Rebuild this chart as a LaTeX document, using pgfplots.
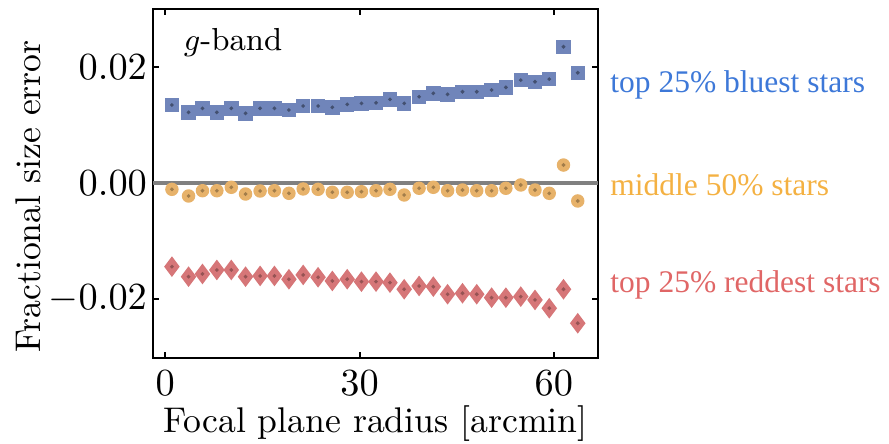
\documentclass[border=0pt]{standalone}
\usepackage{pgfplots}
\usepackage{pgfplotstable}
\pgfplotsset{compat=1.18}
\usepackage{fontspec}
\newfontfamily\sidefont{Liberation Serif}

\definecolor{bluemk}{RGB}{112,133,186}
\definecolor{orangemk}{RGB}{231,178,106}
\definecolor{redmk}{RGB}{214,118,120}
\definecolor{bluetxt}{RGB}{61,120,216}
\definecolor{orangetxt}{RGB}{244,177,66}
\definecolor{redtxt}{RGB}{224,102,102}

% radius, then size error of the bluest, middle and reddest stars
\pgfplotstableread{
r      blue     mid       red
1.03   0.01345  -0.00109  -0.01443
3.60   0.01219  -0.00224  -0.01616
5.75   0.01288  -0.00133  -0.01569
7.97   0.01219  -0.00133  -0.01500
10.20  0.01288  -0.00074  -0.01500
12.40  0.01202  -0.00190  -0.01616
14.65  0.01288  -0.00138  -0.01603
16.86  0.01288  -0.00133  -0.01603
19.10  0.01259  -0.00178  -0.01660
21.30  0.01328  -0.00103  -0.01586
23.60  0.01328  -0.00109  -0.01626
25.80  0.01305  -0.00160  -0.01690
28.10  0.01357  -0.00160  -0.01660
30.30  0.01374  -0.00150  -0.01702
32.55  0.01384  -0.00133  -0.01702
34.70  0.01443  -0.00109  -0.01719
36.90  0.01374  -0.00207  -0.01833
39.20  0.01488  -0.00091  -0.01776
41.40  0.01547  -0.00074  -0.01788
43.60  0.01529  -0.00133  -0.01919
45.90  0.01574  -0.00121  -0.01902
48.10  0.01574  -0.00133  -0.01919
50.40  0.01603  -0.00133  -0.01978
52.60  0.01650  -0.00091  -0.01978
54.90  0.01776  -0.00034  -0.01960
57.10  0.01747  -0.00121  -0.02017
59.30  0.01793  -0.00178  -0.02160
61.50  0.02350   0.00310  -0.01833
63.70  0.01902  -0.00310  -0.02419
}\sizeerr

\begin{document}
\begin{tikzpicture}
\begin{axis}[
    scale only axis,
    width=127.1pt,
    height=99.7pt,
    xmin=-1.9, xmax=66.8,
    ymin=-0.0302, ymax=0.0300,
    xtick={0,30,60},
    ytick={-0.02,0,0.02},
    scaled y ticks=false,
    tick label style={font=\fontsize{10.5}{12}\selectfont},
    yticklabel style={xshift=1.8pt, /pgf/number format/.cd, fixed, fixed zerofill, precision=2},
    label style={font=\fontsize{10.2}{12}\selectfont},
    xlabel={Focal plane radius [arcmin]},
    ylabel={Fractional size error},
    xlabel style={yshift=3.9pt},
    ylabel style={yshift=-4.6pt, xshift=-3.7pt},
    xtick pos=both, ytick pos=both,
    tick align=inside,
    major tick length=1.7pt,
    axis line style={line width=0.57pt},
    every tick/.style={black, line width=0.57pt},
    clip=false,
]
\addplot[gray, line width=0.86pt, forget plot] coordinates {(-1.9,0) (66.8,0)};
\addplot[only marks, mark=square*, mark size=1.86pt, draw=bluemk, fill=bluemk] table[x=r, y=blue] {\sizeerr};
\addplot[only marks, mark=*, mark size=1.72pt, draw=orangemk, fill=orangemk] table[x=r, y=mid] {\sizeerr};
\addplot[only marks, mark=diamond*, mark size=2.63pt, draw=redmk, fill=redmk] table[x=r, y=red] {\sizeerr};
\addplot[only marks, mark=*, mark size=0.3pt, draw=bluemk!60!black, fill=bluemk!60!black] table[x=r, y=blue] {\sizeerr};
\addplot[only marks, mark=*, mark size=0.3pt, draw=orangemk!70!black, fill=orangemk!70!black] table[x=r, y=mid] {\sizeerr};
\addplot[only marks, mark=*, mark size=0.3pt, draw=redmk!70!black, fill=redmk!70!black] table[x=r, y=red] {\sizeerr};

\node[anchor=west, inner sep=0pt, font=\fontsize{9.1}{11}\selectfont] at (rel axis cs:0.068,0.905) {$g$-band};

\node[anchor=west, inner sep=0pt, text=bluetxt, font=\sidefont\fontsize{9}{11}\selectfont, xshift=3.4pt] at (axis cs:66.8,0.0169) {top 25\% bluest stars};
\node[anchor=west, inner sep=0pt, text=orangetxt, font=\sidefont\fontsize{9}{11}\selectfont, xshift=3.4pt] at (axis cs:66.8,-0.0003) {middle 50\% stars};
\node[anchor=west, inner sep=0pt, text=redtxt, font=\sidefont\fontsize{9}{11}\selectfont, xshift=3.4pt] at (axis cs:66.8,-0.0176) {top 25\% reddest stars};
\end{axis}
\pgfresetboundingbox
\path[use as bounding box] (current axis.south west) ++(-43.7pt,-24.3pt) rectangle ++(254pt,126.6pt);
\end{tikzpicture}
\end{document}
